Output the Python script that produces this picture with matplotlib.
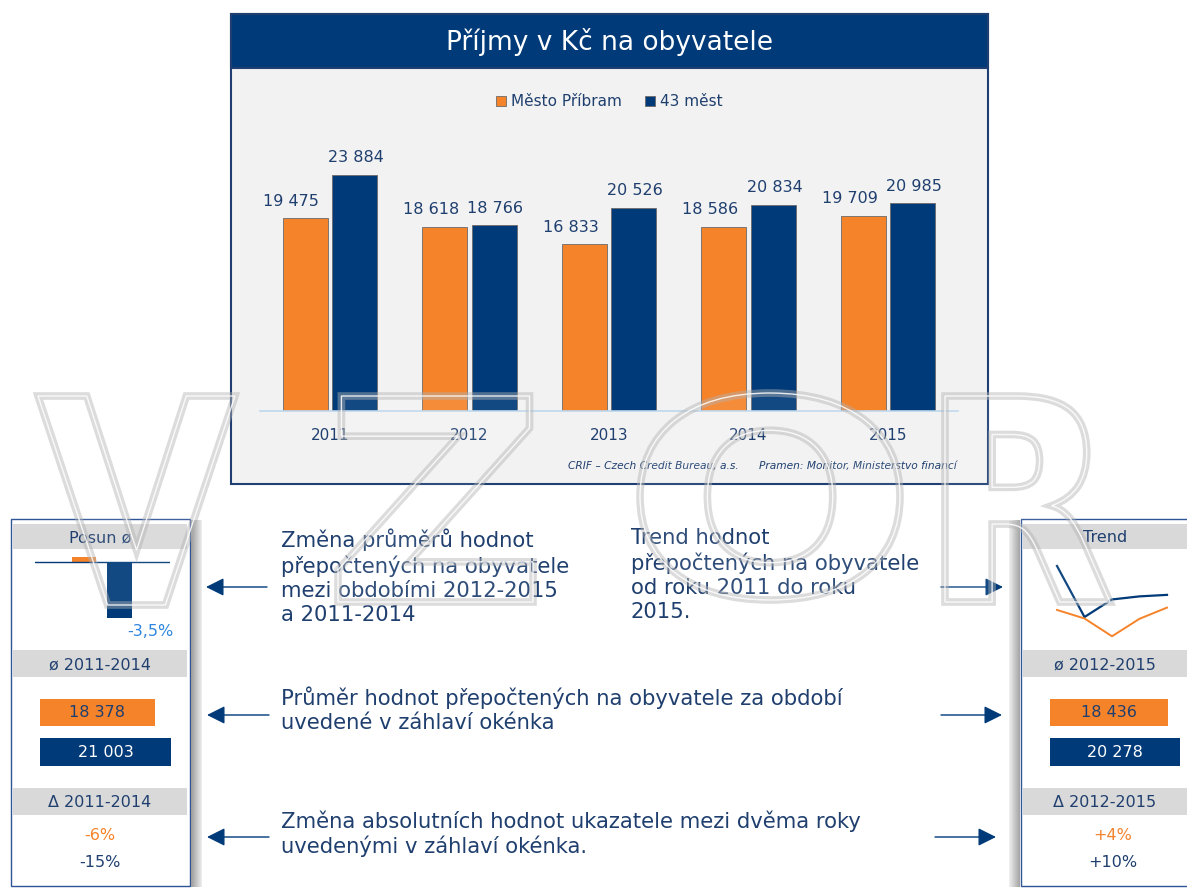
import matplotlib
matplotlib.use("Agg")
import matplotlib.pyplot as plt
from matplotlib.patches import Rectangle, PathPatch
from matplotlib.textpath import TextPath
from matplotlib.font_manager import FontProperties
from matplotlib.transforms import Affine2D

# data
years = ["2011", "2012", "2013", "2014", "2015"]
pribram = [19475, 18618, 16833, 18586, 19709]
mest43 = [23884, 18766, 20526, 20834, 20985]
series_names = ["Město Příbram", "43 měst"]

posun = [0.3, -3.5]          # change of averages, %
posun_label = "-3,5%"
avg_left = [18378, 21003]    # ø 2011-2014
avg_right = [18436, 20278]   # ø 2012-2015
delta_left = ["-6%", "-15%"]
delta_right = ["+4%", "+10%"]

ORANGE = "#F5832A"
BLUE = "#003A78"
TEXT = "#1F3F6F"
GRAY = "#D9D9D9"

W, H = 1187, 888
plt.rcParams["font.family"] = ["DejaVu Sans"]
fig = plt.figure(figsize=(W / 100, H / 100), dpi=100)


def px_axes(x0, y0, x1, y1, z=1):
    ax = fig.add_axes([x0 / W, 1 - y1 / H, (x1 - x0) / W, (y1 - y0) / H])
    ax.set_zorder(z)
    ax.patch.set_alpha(0)
    return ax


def fmt(v):
    return f"{v:,}".replace(",", " ")


# background canvas in pixel coords
bg = px_axes(0, 0, W, H, z=0)
bg.set_xlim(0, W)
bg.set_ylim(H, 0)
bg.axis("off")

# main chart frame
bg.add_patch(Rectangle((231, 14), 757, 470, fc="#F2F2F2", ec="#1F3F73", lw=1.5))
bg.add_patch(Rectangle((231, 14), 757, 54, fc=BLUE, ec="#1F3F73", lw=1.5))
bg.text(609, 42, "Příjmy v Kč na obyvatele", color="white", fontsize=19,
        ha="center", va="center")
bg.text(957, 466, "CRIF – Czech Credit Bureau, a.s.      Pramen: Monitor, Ministerstvo financí",
        color=TEXT, fontsize=7.7, style="italic", ha="right", va="center")

# side panels
for x0, x1, sx in [(11, 190, 191), (1021, 1200, 1009)]:
    bg.add_patch(Rectangle((x0, 519), x1 - x0, 367, fc="white", ec="#2F5597", lw=1))
    for i in range(11):
        g = 0.62 + 0.03 * i if sx == 191 else 0.93 - 0.028 * i
        bg.add_patch(Rectangle((sx + i, 520), 1, 367, fc=(g, g, g), ec="none"))

heads = [(13, 187, ["Posun ø", "ø 2011-2014", "Δ 2011-2014"]),
         (1023, 1187, ["Trend", "ø 2012-2015", "Δ 2012-2015"])]
for x0, x1, labels in heads:
    for (y0, y1), lab in zip([(524, 549), (650, 677), (788, 815)], labels):
        bg.add_patch(Rectangle((x0, y0), x1 - x0, y1 - y0, fc=GRAY, ec="none"))
        bg.text((x0 + x1) / 2, (y0 + y1) / 2 + 1, lab, color=TEXT, fontsize=11.5,
                ha="center", va="center")

for xc, labs in [(100, delta_left), (1113, delta_right)]:
    bg.text(xc, 835, labs[0], color=ORANGE, fontsize=11.5, ha="center", va="center")
    bg.text(xc, 862, labs[1], color=TEXT, fontsize=11.5, ha="center", va="center")

# explanation texts
txt_kw = dict(color=TEXT, fontsize=15.2, ha="left", va="top", linespacing=1.25)
bg.text(281, 528, "Změna průměrů hodnot\npřepočtených na obyvatele\nmezi obdobími 2012-2015\na 2011-2014", **txt_kw)
bg.text(631, 528, "Trend hodnot\npřepočtených na obyvatele\nod roku 2011 do roku\n2015.", **txt_kw)
bg.text(281, 686, "Průměr hodnot přepočtených na obyvatele za období\nuvedené v záhlaví okénka", **txt_kw)
bg.text(281, 810, "Změna absolutních hodnot ukazatele mezi dvěma roky\nuvedenými v záhlaví okénka.", **txt_kw)

arrow_kw = dict(arrowstyle="-|>,head_length=1.0,head_width=0.5", color=BLUE, lw=1,
                mutation_scale=11, shrinkA=0, shrinkB=0)
for y, x_from, x_to in [(587, 267, 206), (715, 269, 207), (837, 269, 207),
                        (587, 941, 1003), (715, 941, 1002), (837, 935, 996)]:
    bg.annotate("", xy=(x_to, y), xytext=(x_from, y), arrowprops=arrow_kw)

# main bar chart
ax = px_axes(260, 134, 958, 411)
x = range(len(years))
bw = 0.322
off = 0.177
b1 = ax.bar([i - off for i in x], pribram, bw, color=ORANGE, ec="#6b6b6b", lw=0.6,
            label=series_names[0])
b2 = ax.bar([i + off for i in x], mest43, bw, color=BLUE, ec="#6b6b6b", lw=0.6,
            label=series_names[1])
for i in x:
    ax.annotate(fmt(pribram[i]), (i - off, pribram[i]), xytext=(-10, 7),
                textcoords="offset points", ha="center", va="bottom",
                color=TEXT, fontsize=11.5)
    ax.annotate(fmt(mest43[i]), (i + off, mest43[i]), xytext=(1, 7),
                textcoords="offset points", ha="center", va="bottom",
                color=TEXT, fontsize=11.5)
ax.set_xlim(-0.5, len(years) - 0.5)
ax.set_ylim(0, 28000)
ax.set_xticks(list(x))
ax.set_xticklabels(years, color=TEXT, fontsize=11)
ax.set_yticks([])
ax.tick_params(axis="x", length=0, pad=12)
for s in ["top", "right", "left"]:
    ax.spines[s].set_visible(False)
ax.spines["bottom"].set_color("#BDD7EE")
ax.spines["bottom"].set_linewidth(1.2)
ax.legend(loc="center", bbox_to_anchor=(609 / W, 1 - 102 / H),
          bbox_transform=fig.transFigure, ncol=2, frameon=False, fontsize=11,
          labelcolor=TEXT, handlelength=0.7, handleheight=0.7,
          handletextpad=0.3, columnspacing=1.5)

# posun mini chart
ap = px_axes(35, 552, 170, 622)
ap.bar([0, 1], posun, 0.68, color=[ORANGE, BLUE])
ap.axhline(0, color=BLUE, lw=1)
ap.set_xlim(-1.38, 2.42)
ap.set_ylim(-3.75, 0.625)
ap.axis("off")
ap.annotate(posun_label, (1, posun[1]), xytext=(22, -10), textcoords="offset points",
            ha="center", va="center", color="#2E86DE", fontsize=11.5,
            annotation_clip=False)

# trend mini chart
at = px_axes(1057, 560, 1167, 640)
at.plot(range(len(years)), mest43, color=BLUE, lw=1.6, clip_on=False)
at.plot(range(len(years)), pribram, color=ORANGE, lw=1.4, clip_on=False)
at.set_xlim(0, 4)
at.set_ylim(16459, 24483)
at.axis("off")

# average boxes
for x0, vals, full in [(40, avg_left, 131), (1050, avg_right, 130)]:
    aa = px_axes(x0, 692.75, x0 + 140, 771.75)
    aa.barh([0, 1], vals, 0.70, color=[ORANGE, BLUE])
    for i, v in enumerate(vals):
        aa.text(v / 2, i, fmt(v), color=TEXT if i == 0 else "white", fontsize=11.5,
                ha="center", va="center")
    aa.set_xlim(0, max(vals) * 140 / full)
    aa.set_ylim(1.5, -0.5)
    aa.axis("off")

# VZOR watermark
wm = px_axes(0, 0, W, H, z=5)
wm.set_xlim(0, W)
wm.set_ylim(H, 0)
wm.axis("off")
fp = FontProperties(family="DejaVu Sans", weight="bold")
for ch, (x0, y0, x1, y1) in [("V", (38, 396, 235, 605)), ("Z", (338, 396, 533, 602)),
                             ("O", (640, 393, 900, 600)), ("R", (945, 396, 1110, 602))]:
    p = TextPath((0, 0), ch, size=100, prop=fp)
    e = p.get_extents()
    tr = Affine2D().translate(-e.x0, -e.y0).scale((x1 - x0) / e.width, -(y1 - y0) / e.height).translate(x0, y1)
    p2 = tr.transform_path(p)
    wm.add_patch(PathPatch(p2, fc=(1, 1, 1, 0.08), ec=(0.7, 0.7, 0.7, 0.45), lw=5.5))
    wm.add_patch(PathPatch(p2, fc="none", ec=(1, 1, 1, 0.85), lw=1))

fig.savefig("out.png", dpi=100)
